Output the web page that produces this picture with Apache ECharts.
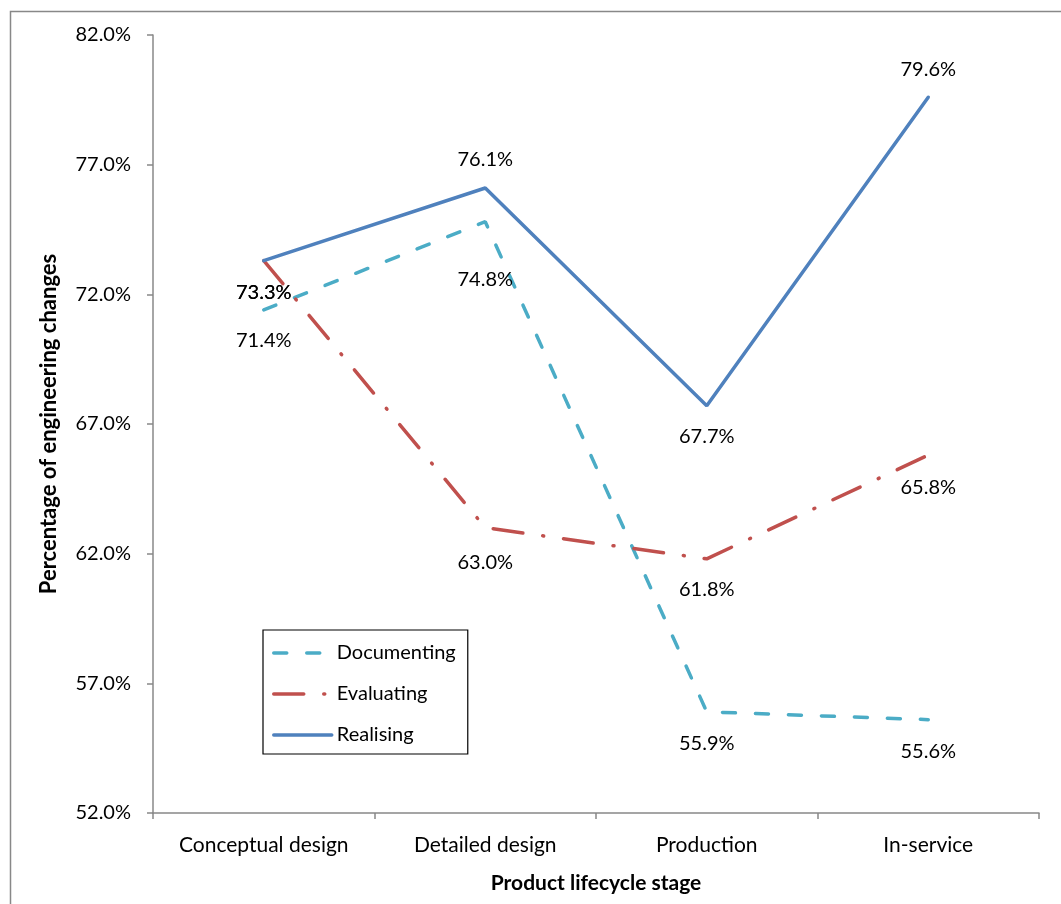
<!DOCTYPE html>
<html>
<head>
<meta charset="utf-8">
<script src="https://cdn.jsdelivr.net/npm/echarts@6/dist/echarts.min.js"></script>
<style>
  html, body { margin: 0; padding: 0; background: #fff; }
  #main { width: 1061px; height: 904px; }
</style>
</head>
<body>
<div id="main"></div>
<script>
// categories and values
var stages = ['Conceptual design', 'Detailed design', 'Production', 'In-service'];
var documenting = [71.4, 74.8, 55.9, 55.6];
var evaluating = [73.3, 63.0, 61.8, 65.8];
var realising = [73.3, 76.1, 67.7, 79.6];

var font = 'Lato';

var chart = echarts.init(document.getElementById('main'));

function pct(v) {
  return v.toFixed(1) + '%';
}

// label placement for each point (Excel style, above / below)
function points(values, places) {
  return values.map(function (v, i) {
    var p = places[i];
    return {
      value: v,
      label: { position: p[0], distance: p[1] }
    };
  });
}

var labelBase = {
  show: true,
  fontFamily: font,
  fontSize: 20,
  color: '#000',
  formatter: function (p) { return pct(p.value); }
};

// invisible point markers so that the labels get drawn
var hidden = { color: 'rgba(0,0,0,0)', borderWidth: 0 };

var option = {
  animation: false,
  graphic: [{
    type: 'rect',
    shape: { x: 10.5, y: 11.5, width: 1200, height: 1000 },
    style: { fill: 'none', stroke: '#888', lineWidth: 1.5 },
    silent: true
  }],
  grid: { left: 153, right: 22, top: 35, bottom: 91 },
  legend: {
    orient: 'vertical',
    left: 263,
    top: 630,
    padding: [13, 12, 9, 9],
    itemGap: 21,
    itemWidth: 58,
    itemHeight: 20,
    borderColor: '#000',
    borderWidth: 1.2,
    itemStyle: { opacity: 0 },
    lineStyle: { width: 3.5, cap: 'round' },
    textStyle: { fontFamily: font, fontSize: 20, color: '#000' },
    data: ['Documenting', 'Evaluating', 'Realising']
  },
  xAxis: {
    type: 'category',
    data: stages,
    boundaryGap: true,
    name: 'Product lifecycle stage',
    nameLocation: 'middle',
    nameGap: 60,
    nameTextStyle: { fontFamily: font, fontSize: 21, fontWeight: 'bold', color: '#000' },
    axisLine: { lineStyle: { color: '#888', width: 1.5 } },
    axisTick: { show: true, length: 6, lineStyle: { color: '#888', width: 1.5 } },
    axisLabel: { fontFamily: font, fontSize: 21, color: '#000', margin: 22 }
  },
  yAxis: {
    type: 'value',
    min: 52,
    max: 82,
    interval: 5,
    name: 'Percentage of engineering changes',
    nameLocation: 'middle',
    nameGap: 93,
    nameTextStyle: { fontFamily: font, fontSize: 22, fontWeight: 'bold', color: '#000' },
    axisLine: { show: true, lineStyle: { color: '#888', width: 1.5 } },
    axisTick: { show: true, length: 6, lineStyle: { color: '#888', width: 1.5 } },
    splitLine: { show: false },
    axisLabel: {
      fontFamily: font, fontSize: 20, color: '#000', margin: 22,
      formatter: function (v) { return pct(v); }
    }
  },
  series: [{
    name: 'Documenting',
    type: 'line',
    symbol: 'circle',
    symbolSize: 1,
    itemStyle: hidden,
    color: '#4BACC6',
    lineStyle: { color: '#4BACC6', width: 3.5, type: [13, 20], cap: 'round' },
    label: labelBase,
    data: points(documenting, [['bottom', 20], ['bottom', 47], ['bottom', 21], ['bottom', 21]])
  }, {
    name: 'Evaluating',
    type: 'line',
    symbol: 'circle',
    symbolSize: 1,
    itemStyle: hidden,
    color: '#C0504D',
    lineStyle: { color: '#C0504D', width: 3.5, type: [30, 20, 1, 20], cap: 'round' },
    label: labelBase,
    data: points(evaluating, [['bottom', 21], ['bottom', 24], ['bottom', 20], ['bottom', 22]])
  }, {
    name: 'Realising',
    type: 'line',
    symbol: 'circle',
    symbolSize: 1,
    itemStyle: hidden,
    color: '#4F81BD',
    lineStyle: { color: '#4F81BD', width: 3.5, type: 'solid', cap: 'round' },
    label: labelBase,
    data: points(realising, [['bottom', 21], ['top', 18], ['bottom', 20], ['top', 17]])
  }]
};

chart.setOption(option);
</script>
</body>
</html>
